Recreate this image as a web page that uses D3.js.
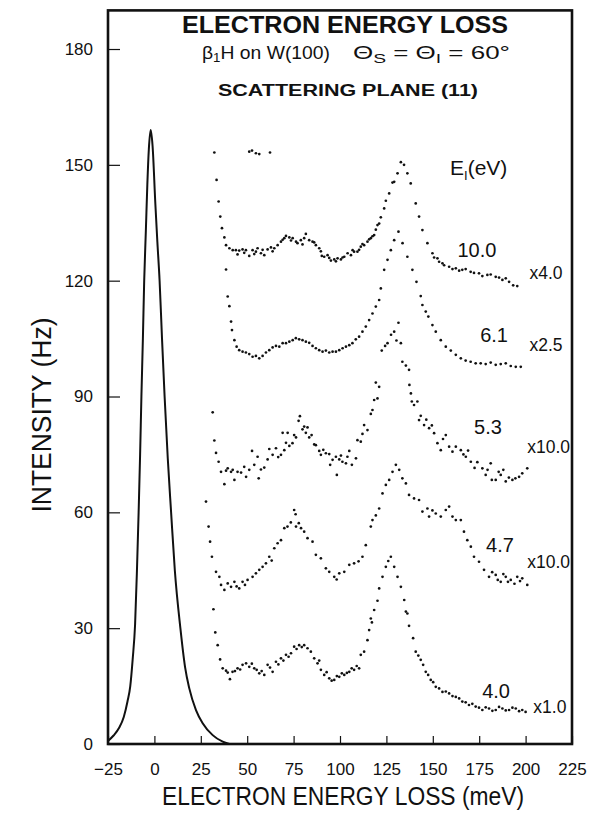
<!DOCTYPE html>
<html><head><meta charset="utf-8">
<script src="https://cdn.jsdelivr.net/npm/d3@7"></script>
<style>
body{margin:0;background:#fff}
svg{display:block}
text{font-family:"Liberation Sans",Arial,sans-serif;fill:#111}
</style>
</head><body>
<svg id="c" width="590" height="814"></svg>
<script>
// ---------- DATA ----------
const xTicks = [-25, 0, 25, 50, 75, 100, 125, 150, 175, 200, 225];
const yTicks = [0, 30, 60, 90, 120, 150, 180];

// elastic peak (solid line)
const elasticE = [-25,-22,-19,-16.5,-14.5,-13,-11.7,-10.4,-9.4,-8.5,-7.7,-7,-6.2,-5.5,-4.6,-3.8,-3,-2,-1,0.5,1.6,2.8,4.1,5.5,7.2,9,11,14,16.5,18.8,22.4,26,31.4,36.8,40.4];
const elasticI = [0.8,2.2,4.2,7,11,15,22,31,45,60,75,90,105,120,133,145,154,159,155,140,130,120,105,90,74,60,45,30,20,14.4,8.8,5.4,2.3,0.6,0];

// E_I = 10.0 eV (x4.0)
const spec10 = [[32.3,153.2],[33.5,146.1],[34.6,140.5],[35.5,136.6],[36.4,133.6],[37.7,131.2],[38.6,129.2],[40.4,128.4],[42.2,127.9],[43.9,127.9],[44.8,126.8],[45.7,127.8],[47.5,128.1],[48.4,127.2],[49.3,127.9],[51.1,126.4],[52.9,127.9],[53.8,126.9],[54.7,127.5],[55.6,128.4],[57.4,127.1],[58.3,128],[59.2,126.6],[61,128.1],[62.8,128.6],[63.7,127.6],[64.6,128.4],[66.4,129.2],[68.2,130.1],[69.1,130.6],[70,131],[70.9,131.6],[72.7,131.2],[73.6,130.4],[74.5,131],[76.3,130.1],[77.1,129.7],[78.9,130.5],[79.8,129.4],[80.7,131],[81.6,132.1],[83.4,130.5],[85.2,130.1],[86.1,129.9],[87,129.2],[88.8,128.4],[89.7,127.6],[90.2,126.4],[91.5,126.2],[93.3,126.6],[94.2,125.9],[95.1,125.2],[96.9,125.5],[97.8,125],[98.7,125.8],[100.5,125.5],[101.4,126],[102.3,126.2],[104.1,127.1],[105.9,126.6],[106.8,127.9],[107.6,127.5],[109.4,127.5],[110.3,128],[111.2,128.8],[112.1,129.5],[113,129.2],[114.8,130.1],[115.7,130.7],[116.6,131],[117.5,131.5],[118.4,131.8],[119.3,133.2],[120.2,134.4],[121.1,134.8],[122,136.4],[123.8,138.7],[124.7,140.7],[126.5,142.6],[128.3,145.4],[129.2,145.6],[131,147.8],[132.8,150.7],[134.5,150],[136.3,147.8],[138.1,145.2],[140.8,140],[142.6,136.6],[144.4,133.1],[147.1,129.7],[149.8,127.1],[150.7,126],[152.5,125.8],[153.4,124.9],[155.2,124.5],[156.1,124],[158.8,123.6],[160.6,123],[162.4,123.2],[164.2,122.6],[165.9,122.8],[167.7,123],[170.4,122.3],[172.2,122],[174.9,121.9],[176.7,121.2],[179.4,121.5],[181.2,121.6],[183.9,121],[185.7,120.8],[187.5,120.2],[189.3,120.6],[191.1,119.7],[193.3,118.8],[195.5,118.6]];
const clip10 = [[51.1,153.4],[52.6,153.7],[54.7,153.0],[56.5,152.8],[62.3,153.2]];

// E_I = 6.1 eV (x2.5)
const spec61 = [[38.6,122.9],[39.5,115.9],[40.4,113.4],[41.3,109.4],[41.8,107.2],[43.1,104.6],[44.3,102.9],[45.7,102],[47.5,101.6],[49.3,101.4],[51.1,101],[52.9,100.3],[54.7,100.5],[56.5,99.9],[58.3,100.5],[60.1,101.4],[61.9,102],[63.7,102.7],[65.5,103.1],[67.3,102.9],[69.1,103.8],[70.9,103.8],[72.7,104.2],[74.5,104.6],[76.2,105.1],[78,104.8],[79.8,104.6],[81.6,104.2],[83.4,103.9],[85.2,103.1],[87,102.5],[88.8,102],[90.6,101.6],[92.4,101.9],[94.2,101.4],[96,101.6],[97.8,101.6],[99.6,102],[101.4,102.5],[103.2,102.9],[105,103.3],[106.7,103.8],[108.5,104.8],[110.3,105.5],[112.1,106.8],[113.9,108.1],[115.7,109.8],[117.5,111.5],[119.3,113.3],[121.1,115],[122,118],[123.8,122.8],[125.6,125.4],[127.4,127.9],[129.2,130.5],[131.5,132.7],[133.7,129.7],[136.3,126.2],[139,122.8],[141.2,119.7],[143.5,116],[144.4,113.7],[146.2,112],[147.6,110.7],[149.8,108.5],[151.6,106.8],[154.3,104.6],[157,102.9],[159.7,101.9],[162.4,100.8],[165.1,99.9],[167.7,99.3],[170.4,99],[173.1,98.6],[175.8,98.6],[178.5,98.4],[181.2,98.8],[183.9,98.2],[186.6,98.4],[189.3,98.6],[192,97.9],[194.7,97.7],[197.4,97.7]];

// E_I = 5.3 eV (x10.0)
const spec53 = [[31.4,85.9],[32.3,78.6],[33.2,75.4],[34.6,73.1],[35.9,70.5],[37.7,67.3],[38.6,70.8],[39.5,71.4],[41.3,70.5],[42.2,71],[43.1,68.4],[44.8,70.5],[46.7,70.3],[48.4,71.8],[49.4,69.2],[51.1,71],[52.6,75.9],[53.8,72.3],[55.6,74.4],[56.2,68.8],[57.4,71.1],[59.2,71.6],[61,73.7],[61.9,76.4],[63.7,74.9],[65.5,76.6],[66.7,74.3],[68.2,74.9],[69.1,80.6],[70,76.1],[70.9,78],[71.8,80.6],[72.7,77.2],[74.4,77.9],[75.3,80],[76.3,79.4],[77.7,83.7],[78.4,84.9],[79.8,81.5],[80.7,82.2],[81.6,80.6],[82.5,82],[83.4,79.4],[84.7,80],[86.1,77.6],[87,77.4],[88.8,75.9],[89.7,74.9],[91,76.2],[92.4,75.3],[94.2,75.1],[94.7,72.3],[96,73.6],[97.8,74.4],[98.3,69.7],[99.6,73.7],[100.5,74.7],[101.3,73.1],[103.2,72.7],[104,74.4],[105,75.9],[106.4,72.3],[108.6,74],[109.4,78.7],[111.2,78.3],[112.1,80.3],[113,82.6],[114.8,81.3],[116.6,85.5],[117.5,86.5],[118.4,89.1],[119.3,93.6],[120.2,89.5],[121.1,92.5],[122.5,101.9],[124.3,103.1],[125.6,103.8],[127.5,106],[129.2,106.8],[130.4,104.5],[131.5,109.1],[132.8,103.8],[133.6,99],[135.5,98],[137.2,96.9],[137.4,93],[138.2,90.8],[138.7,88.7],[139.9,87.8],[141.7,88.7],[142.6,83.9],[143.5,85],[145.3,82.6],[146.5,84],[148,81.8],[149.5,82.5],[150.7,80.5],[152.5,77.9],[154.3,76.1],[155.5,79],[157,80],[158.8,77],[160.6,75.7],[162.4,77],[165.1,76.1],[166.5,75],[167.8,74.4],[169,76],[170.5,73.1],[172.5,71.5],[174,73],[176.7,71.4],[178.5,69.7],[179.5,71],[181.2,72.7],[181.8,68.4],[183.9,68.4],[185.5,70.5],[186.6,69.7],[188,71],[189.3,68],[191,69],[192.9,68.4],[194.5,68.8],[196.5,69.2],[198.2,70.1],[200.9,71.4]];

// E_I = 4.7 eV (x10.0)
const spec47 = [[27.8,62.8],[29.2,56.3],[30,52.4],[31,48.5],[33.2,44.6],[35,43.3],[35.9,41.2],[37.7,39.9],[39.5,41.6],[41.3,40.7],[43.1,42],[44.3,40.8],[45.7,40.3],[47.5,42],[48.8,41.2],[50.2,42.5],[52.9,43.3],[54.7,44.2],[56.5,45.1],[58.3,45.9],[60.1,46.8],[61.9,48.5],[63.2,47.5],[64.6,50.7],[66.4,52],[68.2,52.8],[70,55.9],[71.7,56.3],[73.5,57.4],[75.3,60.6],[76.1,59.5],[76.3,56.3],[77.8,57.2],[79,55.9],[80.7,55],[82.5,53.3],[85.2,52.4],[87,49],[89.7,48.1],[92.4,45.5],[94.2,44.6],[96.9,43.3],[98.2,42.6],[99.6,44.2],[102.3,44.6],[105,46.4],[107.6,46.8],[110,47.3],[112.1,48.5],[113.9,51.5],[116.6,56.3],[117.5,58],[119.3,59.2],[121.1,61],[122.9,64.9],[124.7,67.1],[126.5,68.4],[128.3,70.5],[130.1,72.3],[131.9,71],[133.6,68.8],[135.5,67.5],[137.2,64.5],[139.9,63.6],[142.6,63.2],[144.4,60.2],[147.1,61],[148,58.9],[149.8,60.5],[151.6,59.7],[154.3,58.9],[157,60.6],[158.8,61.5],[160.6,58.9],[162.4,58],[165.1,58],[166.8,55],[168.6,52.8],[170.5,51.1],[172.2,48.5],[174.9,47.2],[177.6,45.1],[180.3,43.3],[182,44.5],[183.9,43.8],[185,42.5],[186.6,42],[188,44],[189.3,43.3],[190.5,42],[192,42.5],[194,41.5],[195.5,43.3],[197,42.2],[198.2,42.9],[200.9,41.2]];

// E_I = 4.0 eV (x1.0)
const spec40 = [[31.8,34.9],[32.8,28.9],[34.1,25.6],[35.4,21.9],[36.8,19.6],[38.6,19],[39.5,18.5],[40.7,16.8],[42.1,18.7],[43.4,18.9],[44.8,19.6],[46.2,19.3],[47.5,20.5],[49.4,20.9],[51.1,20],[52.5,20.8],[53.8,19.6],[55.1,19.2],[56.5,18.3],[57.8,18.9],[59.2,17.9],[61,20.5],[62.3,19.8],[63.7,18.7],[65.5,21.3],[66.8,20.6],[68.2,22.2],[69.5,21.6],[70.9,23.1],[72.3,22.6],[73.6,23.5],[75.3,25.2],[76.6,24.6],[78,25.6],[79.4,25.1],[80.7,25.6],[82.5,24.8],[84.3,23.9],[86.1,22.2],[87.9,20.9],[88.8,21.6],[89.7,19.2],[91.5,17.9],[92.8,18.6],[94.2,17],[95.5,16.4],[96.9,16.6],[98.3,17.6],[99.6,17.4],[101,18.3],[102.3,17.9],[103.7,18.4],[105,18.7],[106.3,19.6],[107.6,19.2],[109,20.2],[110.3,19.6],[111.2,23.1],[113,23.9],[114.8,26.9],[115.7,29.5],[116.6,32.5],[117.2,31.5],[118.4,34.7],[120.2,37.1],[121.1,40.3],[122.9,43.3],[124.7,45.9],[126,47.4],[127.4,48.5],[129.2,45.9],[131,43.3],[132.8,40.7],[134.6,37.3],[135.5,34.3],[136.3,33.8],[137.2,30.6],[139.4,27.4],[140.8,23.9],[142.2,22.9],[143.5,21.8],[144.8,20.5],[146.2,18.7],[147.5,17.9],[148.9,16.6],[150.2,16],[151.6,14.8],[153.4,14.4],[155.2,13.5],[157,13.6],[158.8,13.1],[160.6,12.4],[162.4,12.2],[164.2,11.8],[165.9,11],[167.7,10.8],[169.5,10.1],[171.3,10.4],[173.1,9.7],[174.9,9.4],[176.7,8.8],[178.5,9.5],[180.3,9.2],[182.1,8.6],[183.9,8.8],[185.7,9.6],[187.5,9.2],[189.3,8.7],[191.1,8.8],[192.9,9.4],[194.7,9.2],[196.5,8.5],[198.2,8.8],[200,8.3]];

// curve annotations: incident energy, scale factor, and their anchor points in data units
const energyLabels = ["10.0", "6.1", "5.3", "4.7", "4.0"];
const energyLabelAt = [[173.8,127.9],[183.0,105.9],[179.7,82.1],[186.2,51.5],[184.1,13.7]];
const factorLabels = ["x4.0", "x2.5", "x10.0", "x10.0", "x1.0"];
const factorLabelAt = [[211.0,122.0],[211.0,103.3],[212.4,76.9],[212.4,47.1],[213.1,9.6]];

// ---------- DRAW ----------
const svg = d3.select("#c");
const x = d3.scaleLinear().domain([-25, 225]).range([108, 572]);
const y = d3.scaleLinear().domain([0, 190]).range([744, 10.4]);
const ink = "#111";

// axes
const gx = svg.append("g").attr("transform", `translate(0,${y(0)})`)
  .call(d3.axisBottom(x).tickValues(xTicks).tickSize(-8).tickPadding(19))
  .attr("font-family", "'Liberation Sans', Arial, sans-serif").attr("font-size", 17);
gx.select(".domain").remove();
gx.selectAll(".tick line").attr("stroke", ink).attr("stroke-width", 1.2);
gx.selectAll(".tick text").attr("fill", ink);

const gy = svg.append("g").attr("transform", `translate(${x(-25)},0)`)
  .call(d3.axisLeft(y).tickValues(yTicks).tickSize(-12).tickPadding(15))
  .attr("font-family", "'Liberation Sans', Arial, sans-serif").attr("font-size", 17);
gy.select(".domain").remove();
gy.selectAll(".tick line").attr("stroke", ink).attr("stroke-width", 1.2);
gy.selectAll(".tick text").attr("fill", ink);

// frame
svg.append("rect")
  .attr("x", x(-25)).attr("y", y(190))
  .attr("width", x(225) - x(-25)).attr("height", y(0) - y(190))
  .attr("fill", "none").attr("stroke", ink).attr("stroke-width", 2.6);

// axis titles
svg.append("text").attr("x", 343).attr("y", 805).attr("text-anchor", "middle")
  .attr("font-size", 26).attr("textLength", 362).attr("lengthAdjust", "spacingAndGlyphs")
  .text("ELECTRON ENERGY LOSS (meV)");
svg.append("text").attr("transform", "translate(51,415) rotate(-90)").attr("text-anchor", "middle")
  .attr("font-size", 27).attr("textLength", 195).attr("lengthAdjust", "spacingAndGlyphs")
  .text("INTENSITY (Hz)");

// elastic peak
const elastic = elasticE.map((e, i) => [e, elasticI[i]]);
svg.append("path").datum(elastic)
  .attr("d", d3.line().x(d => x(d[0])).y(d => y(d[1])).curve(d3.curveMonotoneX))
  .attr("fill", "none").attr("stroke", ink).attr("stroke-width", 2);

// dotted spectra
const allSpectra = [spec10, clip10, spec61, spec53, spec47, spec40];
allSpectra.forEach(s => {
  svg.append("g").selectAll("circle").data(s).join("circle")
    .attr("cx", d => x(d[0])).attr("cy", d => y(d[1])).attr("r", 1.35).attr("fill", ink);
});

// curve labels
energyLabels.forEach((t, i) => {
  svg.append("text").attr("x", x(energyLabelAt[i][0])).attr("y", y(energyLabelAt[i][1]))
    .attr("dy", "0.36em").attr("text-anchor", "middle").attr("font-size", 20).text(t);
});
factorLabels.forEach((t, i) => {
  svg.append("text").attr("x", x(factorLabelAt[i][0])).attr("y", y(factorLabelAt[i][1]))
    .attr("dy", "0.36em").attr("text-anchor", "middle").attr("font-size", 17.5).text(t);
});

// headings
svg.append("text").attr("x", 345).attr("y", 33).attr("text-anchor", "middle")
  .attr("font-size", 23).attr("font-weight", "bold").attr("textLength", 326).attr("lengthAdjust", "spacingAndGlyphs")
  .text("ELECTRON ENERGY LOSS");

const subA = svg.append("text").attr("x", 202).attr("y", 59)
  .attr("font-size", 17.5).attr("textLength", 128).attr("lengthAdjust", "spacingAndGlyphs");
subA.append("tspan").text("β");
subA.append("tspan").attr("font-size", 12).attr("dy", 3).text("1");
subA.append("tspan").attr("dy", -3).text("H on W(100)");

const subB = svg.append("text").attr("x", 353).attr("y", 59)
  .attr("font-size", 17.5).attr("textLength", 157).attr("lengthAdjust", "spacingAndGlyphs");
subB.append("tspan").text("Θ");
subB.append("tspan").attr("font-size", 13).attr("dy", 4).text("S");
subB.append("tspan").attr("dy", -4).text(" = Θ");
subB.append("tspan").attr("font-size", 13).attr("dy", 4).text("I");
subB.append("tspan").attr("dy", -4).text(" = 60°");

svg.append("text").attr("x", 348).attr("y", 96).attr("text-anchor", "middle")
  .attr("font-size", 16).attr("font-weight", "bold").attr("textLength", 260).attr("lengthAdjust", "spacingAndGlyphs")
  .text("SCATTERING PLANE (11)");

const ei = svg.append("text").attr("x", 450).attr("y", 175).attr("font-size", 21);
ei.append("tspan").text("E");
ei.append("tspan").attr("font-size", 13).attr("dy", 5).text("I");
ei.append("tspan").attr("dy", -5).text("(eV)");
</script>
</body></html>
